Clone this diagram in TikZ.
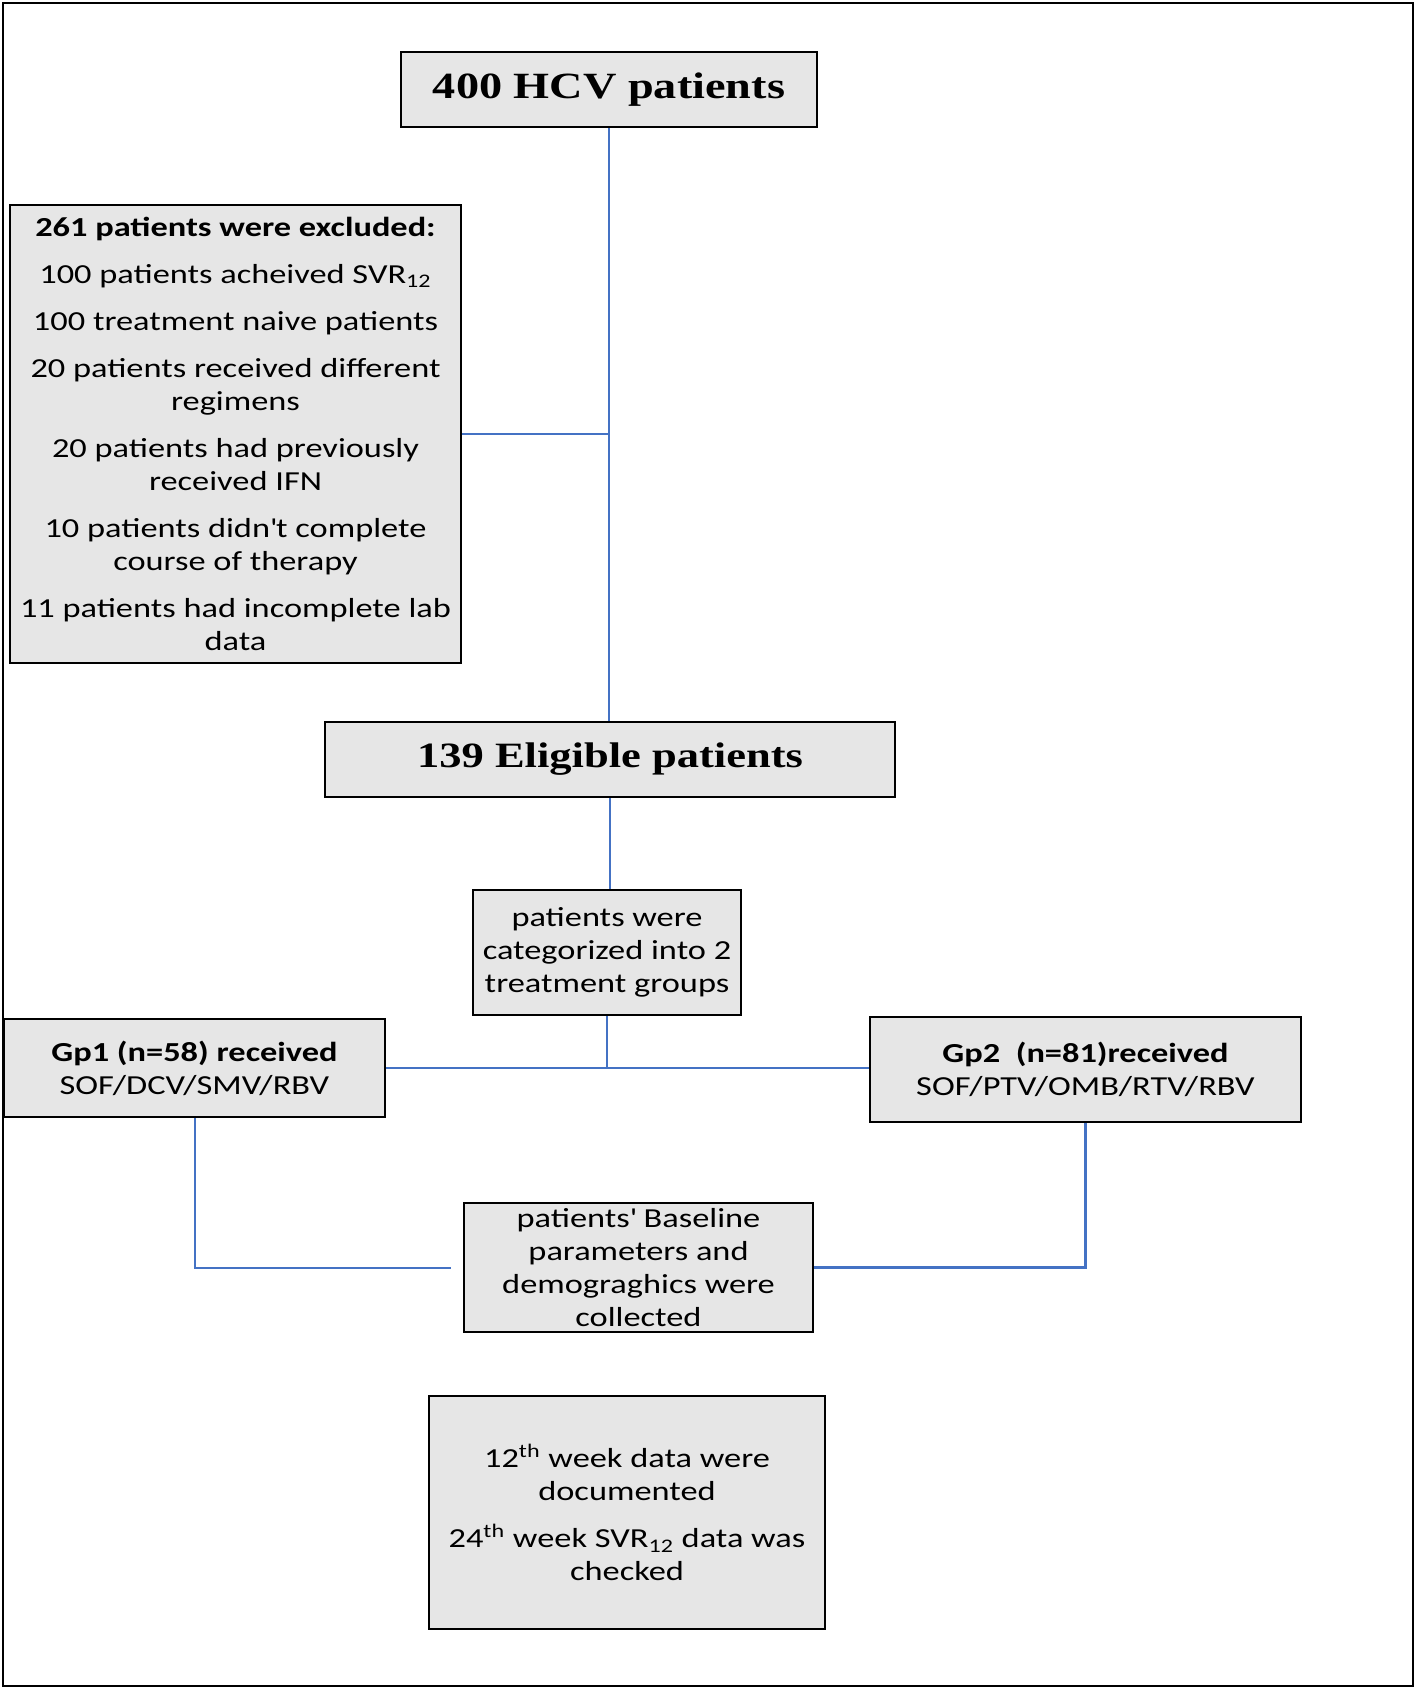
\documentclass[tikz,border=0pt]{standalone}
\usepackage{fontspec}
\setmainfont{Carlito}
\newfontfamily\bodyfont[FakeStretch=1.25]{Carlito}
\newfontfamily\headfont[FakeStretch=1.25]{Liberation Serif}
\definecolor{boxgray}{RGB}{230,230,230}
\definecolor{linkblue}{RGB}{68,114,196}
\begin{document}
\begin{tikzpicture}[x=0.5pt,y=-0.5pt,
  box/.style={draw=black, line width=1.2pt, fill=boxgray, inner sep=0pt, align=center,
    font=\bodyfont\fontsize{13.75pt}{16.5pt}\selectfont},
  headbox/.style={box, font=\headfont\bfseries\fontsize{18.5pt}{22pt}\selectfont},
  link/.style={draw=linkblue, line width=1pt}]
\useasboundingbox (0,0) rectangle (1416,1690);
\draw[line width=1.2pt] (3,3) rectangle (1413,1686);

\node[headbox, minimum width=208pt, minimum height=37.5pt] (top) at (609,89.5) {400 HCV patients};
\node[box, minimum width=225.5pt, minimum height=229pt] (excl) at (235.5,434)
  {\textbf{261 patients were excluded:}\\[7pt]
   100 patients acheived SVR\textsubscript{12}\\[7pt]
   100 treatment naive patients\\[7pt]
   20 patients received different\\ regimens\\[7pt]
   20 patients had previously\\ received IFN\\[7pt]
   10 patients didn\textquotesingle t complete\\ course of therapy\\[7pt]
   11 patients had incomplete lab\\ data};
\node[headbox, font=\headfont\bfseries\fontsize{17.8pt}{22pt}\selectfont,
  minimum width=285pt, minimum height=37.5pt] (elig) at (610,759.5) {139 Eligible patients};
\node[box, minimum width=134pt, minimum height=62.5pt] (cat) at (607,952.5)
  {patients were\\ categorized into 2\\ treatment groups};
\node[box, minimum width=190.5pt, minimum height=49pt] (gp1) at (194.5,1068)
  {\textbf{Gp1 (n=58) received}\\ SOF/DCV/SMV/RBV};
\node[box, minimum width=215.5pt, minimum height=52.5pt] (gp2) at (1085.5,1069.5)
  {\textbf{Gp2\ \ (n=81)received}\\ SOF/PTV/OMB/RTV/RBV};
\node[box, minimum width=174.5pt, minimum height=64.5pt] (base) at (638.5,1267.5)
  {patients\textquotesingle\ Baseline\\ parameters and\\ demograghics were\\ collected};
\node[box, minimum width=198pt, minimum height=116.5pt] (final) at (627,1512.5)
  {12\textsuperscript{th} week data were\\ documented\\[7pt]
   24\textsuperscript{th} week SVR\textsubscript{12} data was\\ checked};

\draw[link] (top.south) -- (top.south |- elig.north);
\draw[link] (excl.east) -- (excl.east -| top.south);
\draw[link] (elig.south) -- (elig.south |- cat.north);
\draw[link] (cat.south) -- (cat.south |- gp1.east);
\draw[link] (gp1.east) -- (gp1.east -| gp2.west);
\draw[link, shorten >=6pt] (gp1.south) |- (base.west);
\draw[link, line width=1.6pt] (gp2.south) |- (base.east);
\end{tikzpicture}
\end{document}
